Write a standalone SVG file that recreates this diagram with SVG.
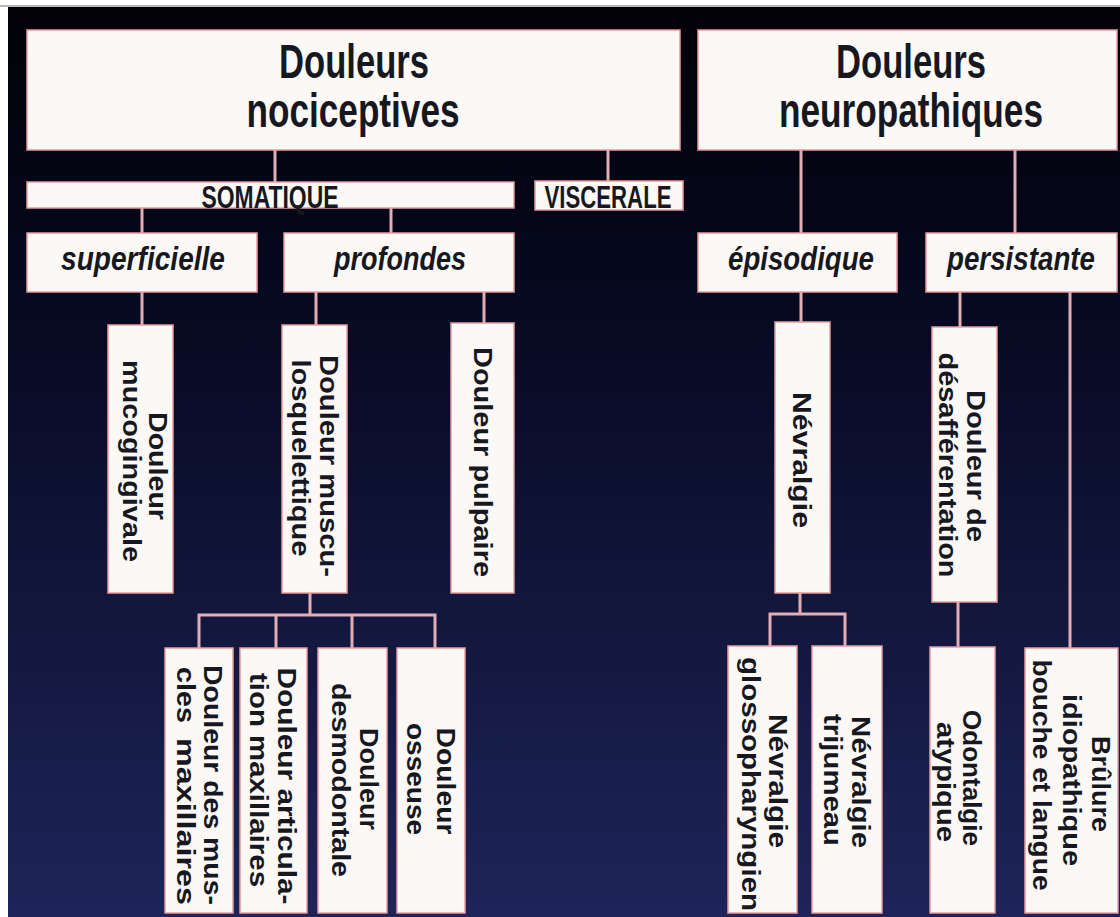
<svg xmlns="http://www.w3.org/2000/svg" width="1120" height="917" viewBox="0 0 1120 917">
<defs>
<linearGradient id="bg" x1="0" y1="0" x2="0" y2="1">
<stop offset="0" stop-color="#010106"/>
<stop offset="0.35" stop-color="#070a22"/>
<stop offset="1" stop-color="#1e2459"/>
</linearGradient>
</defs>
<style>
.box{fill:#fbf8f6;stroke:#e79ca0;stroke-width:1.5}
.cn{fill:none;stroke:#e3aeb3;stroke-width:3}
.t{font-family:"Liberation Sans Narrow","Liberation Sans",Arial,sans-serif;font-weight:bold;fill:#17181f}
.title{font-size:49px;text-anchor:middle}
.cap{font-size:32px;text-anchor:middle}
.it{font-size:34px;font-style:italic;text-anchor:middle}
.v{font-family:"Liberation Sans",Arial,sans-serif;font-weight:bold;fill:#17181f;font-size:26px;text-anchor:middle}
.vs{font-family:"Liberation Sans",Arial,sans-serif;font-weight:bold;fill:#17181f;font-size:26px}
</style>
<rect x="0" y="0" width="1120" height="917" fill="#ffffff"/>
<rect x="0" y="5" width="1120" height="2" fill="#b8b8b8"/>
<rect x="8" y="7" width="1112" height="910" fill="url(#bg)"/>

<g id="connectors">
<path class="cn" d="M275 150V182M608 150V181M142 208V233M391 208V233M801 150V233M1015 150V233M142 292V325M316 292V325M484 292V323M801 292V322M960 292V327M1070 292V648"/>
<path class="cn" d="M310 593V615M199 648V615H435V648M276 615V648M352 615V648"/>
<path class="cn" d="M800 593V614M770 646V614H845V646"/>
<path class="cn" d="M958 602V647"/>
</g>

<g id="n_noci">
<rect class="box" x="27" y="30" width="653" height="120"/>
<text class="t title" x="354" y="78" textLength="150" lengthAdjust="spacingAndGlyphs">Douleurs</text>
<text class="t title" x="353" y="127" textLength="213" lengthAdjust="spacingAndGlyphs">nociceptives</text>
</g>
<g id="n_neuro">
<rect class="box" x="698" y="30" width="419" height="120"/>
<text class="t title" x="911" y="78" textLength="150" lengthAdjust="spacingAndGlyphs">Douleurs</text>
<text class="t title" x="911" y="127" textLength="264" lengthAdjust="spacingAndGlyphs">neuropathiques</text>
</g>
<g id="n_soma">
<rect class="box" x="27" y="182" width="487" height="26"/>
<text class="t cap" x="270" y="208" textLength="137" lengthAdjust="spacingAndGlyphs">SOMATIQUE</text>
</g>
<g id="n_visc">
<rect class="box" x="535" y="181" width="148" height="29"/>
<text class="t cap" x="608" y="208" textLength="127" lengthAdjust="spacingAndGlyphs">VISCERALE</text>
</g>
<g id="n_sup">
<rect class="box" x="27" y="233" width="230" height="59"/>
<text class="t it" x="143" y="270" textLength="164" lengthAdjust="spacingAndGlyphs">superficielle</text>
</g>
<g id="n_prof">
<rect class="box" x="284" y="233" width="230" height="59"/>
<text class="t it" x="400" y="270" textLength="132" lengthAdjust="spacingAndGlyphs">profondes</text>
</g>
<g id="n_epi">
<rect class="box" x="698" y="233" width="199" height="59"/>
<text class="t it" x="801" y="270" textLength="146" lengthAdjust="spacingAndGlyphs">épisodique</text>
</g>
<g id="n_pers">
<rect class="box" x="926" y="233" width="191" height="59"/>
<text class="t it" x="1021" y="270" textLength="148" lengthAdjust="spacingAndGlyphs">persistante</text>
</g>

<g id="n_muco">
<rect class="box" x="108" y="325" width="65" height="268"/>
<text class="v" transform="translate(149,466) rotate(90)" textLength="108" lengthAdjust="spacingAndGlyphs">Douleur</text>
<text class="v" transform="translate(123,461) rotate(90)" textLength="202" lengthAdjust="spacingAndGlyphs">mucogingivale</text>
</g>
<g id="n_musc">
<rect class="box" x="282" y="325" width="65" height="268"/>
<text class="v" transform="translate(320,466) rotate(90)" textLength="222" lengthAdjust="spacingAndGlyphs">Douleur muscu-</text>
<text class="v" transform="translate(292,458) rotate(90)" textLength="197" lengthAdjust="spacingAndGlyphs">losquelettique</text>
</g>
<g id="n_pulp">
<rect class="box" x="451" y="323" width="63" height="270"/>
<text class="v" transform="translate(474,462) rotate(90)" textLength="230" lengthAdjust="spacingAndGlyphs">Douleur pulpaire</text>
</g>
<g id="n_nevr">
<rect class="box" x="775" y="322" width="55" height="271"/>
<text class="v" transform="translate(793,460) rotate(90)" textLength="136" lengthAdjust="spacingAndGlyphs">Névralgie</text>
</g>
<g id="n_desaff">
<rect class="box" x="932" y="327" width="65" height="275"/>
<text class="v" transform="translate(967,466) rotate(90)" textLength="152" lengthAdjust="spacingAndGlyphs">Douleur de</text>
<text class="v" transform="translate(939,465) rotate(90)" textLength="225" lengthAdjust="spacingAndGlyphs">désafférentation</text>
</g>

<g id="n_muscles">
<rect class="box" x="165" y="648" width="68" height="265"/>
<text class="v" transform="translate(204,785) rotate(90)" textLength="240" lengthAdjust="spacingAndGlyphs">Douleur des mus-</text>
<text class="vs" transform="translate(177,785) rotate(90)"><tspan x="-118" textLength="56" lengthAdjust="spacingAndGlyphs">cles</tspan> <tspan x="-47" textLength="167" lengthAdjust="spacingAndGlyphs">maxillaires</tspan></text>
</g>
<g id="n_artic">
<rect class="box" x="240" y="648" width="67" height="265"/>
<text class="v" transform="translate(278,786) rotate(90)" textLength="237" lengthAdjust="spacingAndGlyphs">Douleur articula-</text>
<text class="v" transform="translate(250,780) rotate(90)" textLength="214" lengthAdjust="spacingAndGlyphs">tion maxillaires</text>
</g>
<g id="n_desmo">
<rect class="box" x="318" y="648" width="69" height="265"/>
<text class="v" transform="translate(360,779) rotate(90)" textLength="102" lengthAdjust="spacingAndGlyphs">Douleur</text>
<text class="v" transform="translate(332,780) rotate(90)" textLength="194" lengthAdjust="spacingAndGlyphs">desmodontale</text>
</g>
<g id="n_osseuse">
<rect class="box" x="397" y="648" width="68" height="265"/>
<text class="v" transform="translate(437,781) rotate(90)" textLength="107" lengthAdjust="spacingAndGlyphs">Douleur</text>
<text class="v" transform="translate(407,779) rotate(90)" textLength="112" lengthAdjust="spacingAndGlyphs">osseuse</text>
</g>
<g id="n_glosso">
<rect class="box" x="728" y="646" width="69" height="267"/>
<text class="v" transform="translate(769,781) rotate(90)" textLength="134" lengthAdjust="spacingAndGlyphs">Névralgie</text>
<text class="v" transform="translate(742,784) rotate(90)" textLength="254" lengthAdjust="spacingAndGlyphs">glossopharyngien</text>
</g>
<g id="n_triju">
<rect class="box" x="812" y="646" width="70" height="267"/>
<text class="v" transform="translate(852,782) rotate(90)" textLength="132" lengthAdjust="spacingAndGlyphs">Névralgie</text>
<text class="v" transform="translate(824,780) rotate(90)" textLength="132" lengthAdjust="spacingAndGlyphs">trijumeau</text>
</g>
<g id="n_odont">
<rect class="box" x="930" y="647" width="65" height="266"/>
<text class="v" transform="translate(963,778) rotate(90)" textLength="136" lengthAdjust="spacingAndGlyphs">Odontalgie</text>
<text class="v" transform="translate(937,782) rotate(90)" textLength="120" lengthAdjust="spacingAndGlyphs">atypique</text>
</g>
<g id="n_brul">
<rect class="box" x="1025" y="648" width="93" height="265"/>
<text class="v" transform="translate(1092,784) rotate(90)" textLength="96" lengthAdjust="spacingAndGlyphs">Brûlure</text>
<text class="v" transform="translate(1063,780) rotate(90)" textLength="172" lengthAdjust="spacingAndGlyphs">idiopathique</text>
<text class="v" transform="translate(1033,775) rotate(90)" textLength="231" lengthAdjust="spacingAndGlyphs">bouche et langue</text>
</g>
</svg>
